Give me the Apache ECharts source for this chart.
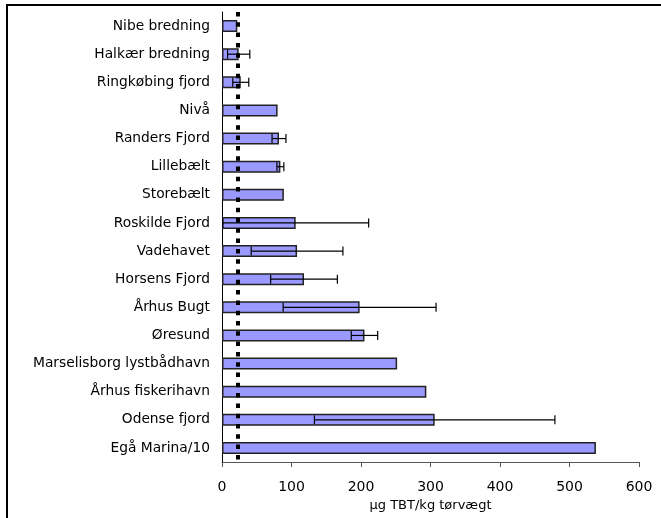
<!DOCTYPE html>
<html>
<head>
<meta charset="utf-8">
<script src="https://cdn.jsdelivr.net/npm/echarts@6/dist/echarts.min.js"></script>
<style>
  html, body { margin: 0; padding: 0; background: #fff; }
  #chart { width: 661px; height: 518px; }
</style>
</head>
<body>
<div id="chart"></div>
<script>
// Sampling sites, top to bottom
const categories = [
  'Nibe bredning', 'Halkær bredning', 'Ringkøbing fjord', 'Nivå', 'Randers Fjord',
  'Lillebælt', 'Storebælt', 'Roskilde Fjord', 'Vadehavet', 'Horsens Fjord',
  'Århus Bugt', 'Øresund', 'Marselisborg lystbådhavn', 'Århus fiskerihavn',
  'Odense fjord', 'Egå Marina/10'
];
// Mean TBT concentration (µg TBT/kg dry weight)
const means = [22, 24, 27, 80, 82, 84, 89, 106, 108, 118, 198, 205, 252, 294, 306, 538];
// Spread (±) around the mean; null where no spread is given
const spreads = [null, 16, 11.5, null, 10, 5, null, 105, 66, 48, 110, 19, null, null, 173, null];
// Reference level drawn as the dotted vertical line
const referenceLevel = [22];
// Value axis ticks
const xTicks = [0, 100, 200, 300, 400, 500, 600];

const errorData = [];
spreads.forEach((s, i) => {
  if (s != null) errorData.push([i, means[i] - s, means[i] + s]);
});

const FONT = 'DejaVu Sans';
const chart = echarts.init(document.getElementById('chart'), null, { renderer: 'canvas' });

chart.setOption({
  animation: false,
  backgroundColor: '#fff',
  grid: { left: 222, right: 22, top: 12, bottom: 56, containLabel: false },
  xAxis: {
    type: 'value',
    min: xTicks[0],
    max: xTicks[xTicks.length - 1],
    interval: xTicks[1] - xTicks[0],
    name: 'µg TBT/kg tørvægt',
    nameLocation: 'middle',
    nameGap: 33,
    nameTextStyle: { fontFamily: FONT, fontSize: 13, color: '#000' },
    axisLine: { show: true, lineStyle: { color: '#555', width: 1 } },
    axisTick: { show: true, inside: false, length: 5, lineStyle: { color: '#555' } },
    axisLabel: { fontFamily: FONT, fontSize: 14, color: '#000', margin: 18 },
    splitLine: { show: false }
  },
  yAxis: {
    type: 'category',
    data: categories,
    inverse: true,
    axisLine: { show: true, lineStyle: { color: '#000', width: 1 } },
    axisTick: { show: false },
    axisLabel: { fontFamily: FONT, fontSize: 13.8, color: '#000', margin: 12 },
    splitLine: { show: false }
  },
  graphic: [{
    type: 'polyline',
    shape: { points: [[7, 518], [7, 5], [661, 5]] },
    style: { stroke: '#000', lineWidth: 2, fill: null },
    silent: true
  }],
  series: [
    {
      type: 'bar',
      data: means,
      barWidth: 12,
      itemStyle: { color: '#9999FF', borderColor: '#222', borderWidth: 1.5 },
      z: 2
    },
    {
      type: 'custom',
      data: errorData,
      z: 3,
      renderItem: function (params, api) {
        const idx = api.value(0);
        const lo = api.coord([api.value(1), idx]);
        const hi = api.coord([api.value(2), idx]);
        const h = 4.5;
        const style = { stroke: '#000', lineWidth: 1.2 };
        return {
          type: 'group',
          children: [
            { type: 'line', shape: { x1: lo[0], y1: lo[1], x2: hi[0], y2: hi[1] }, style },
            { type: 'line', shape: { x1: lo[0], y1: lo[1] - h, x2: lo[0], y2: lo[1] + h }, style },
            { type: 'line', shape: { x1: hi[0], y1: hi[1] - h, x2: hi[0], y2: hi[1] + h }, style }
          ]
        };
      }
    },
    {
      type: 'line',
      data: [],
      z: 5,
      markLine: {
        silent: true,
        symbol: 'none',
        label: { show: false },
        lineStyle: { color: '#000', width: 4, type: [4.5, 5.8], cap: 'butt' },
        data: referenceLevel.map(v => ({ xAxis: v }))
      }
    }
  ]
});
</script>
</body>
</html>
